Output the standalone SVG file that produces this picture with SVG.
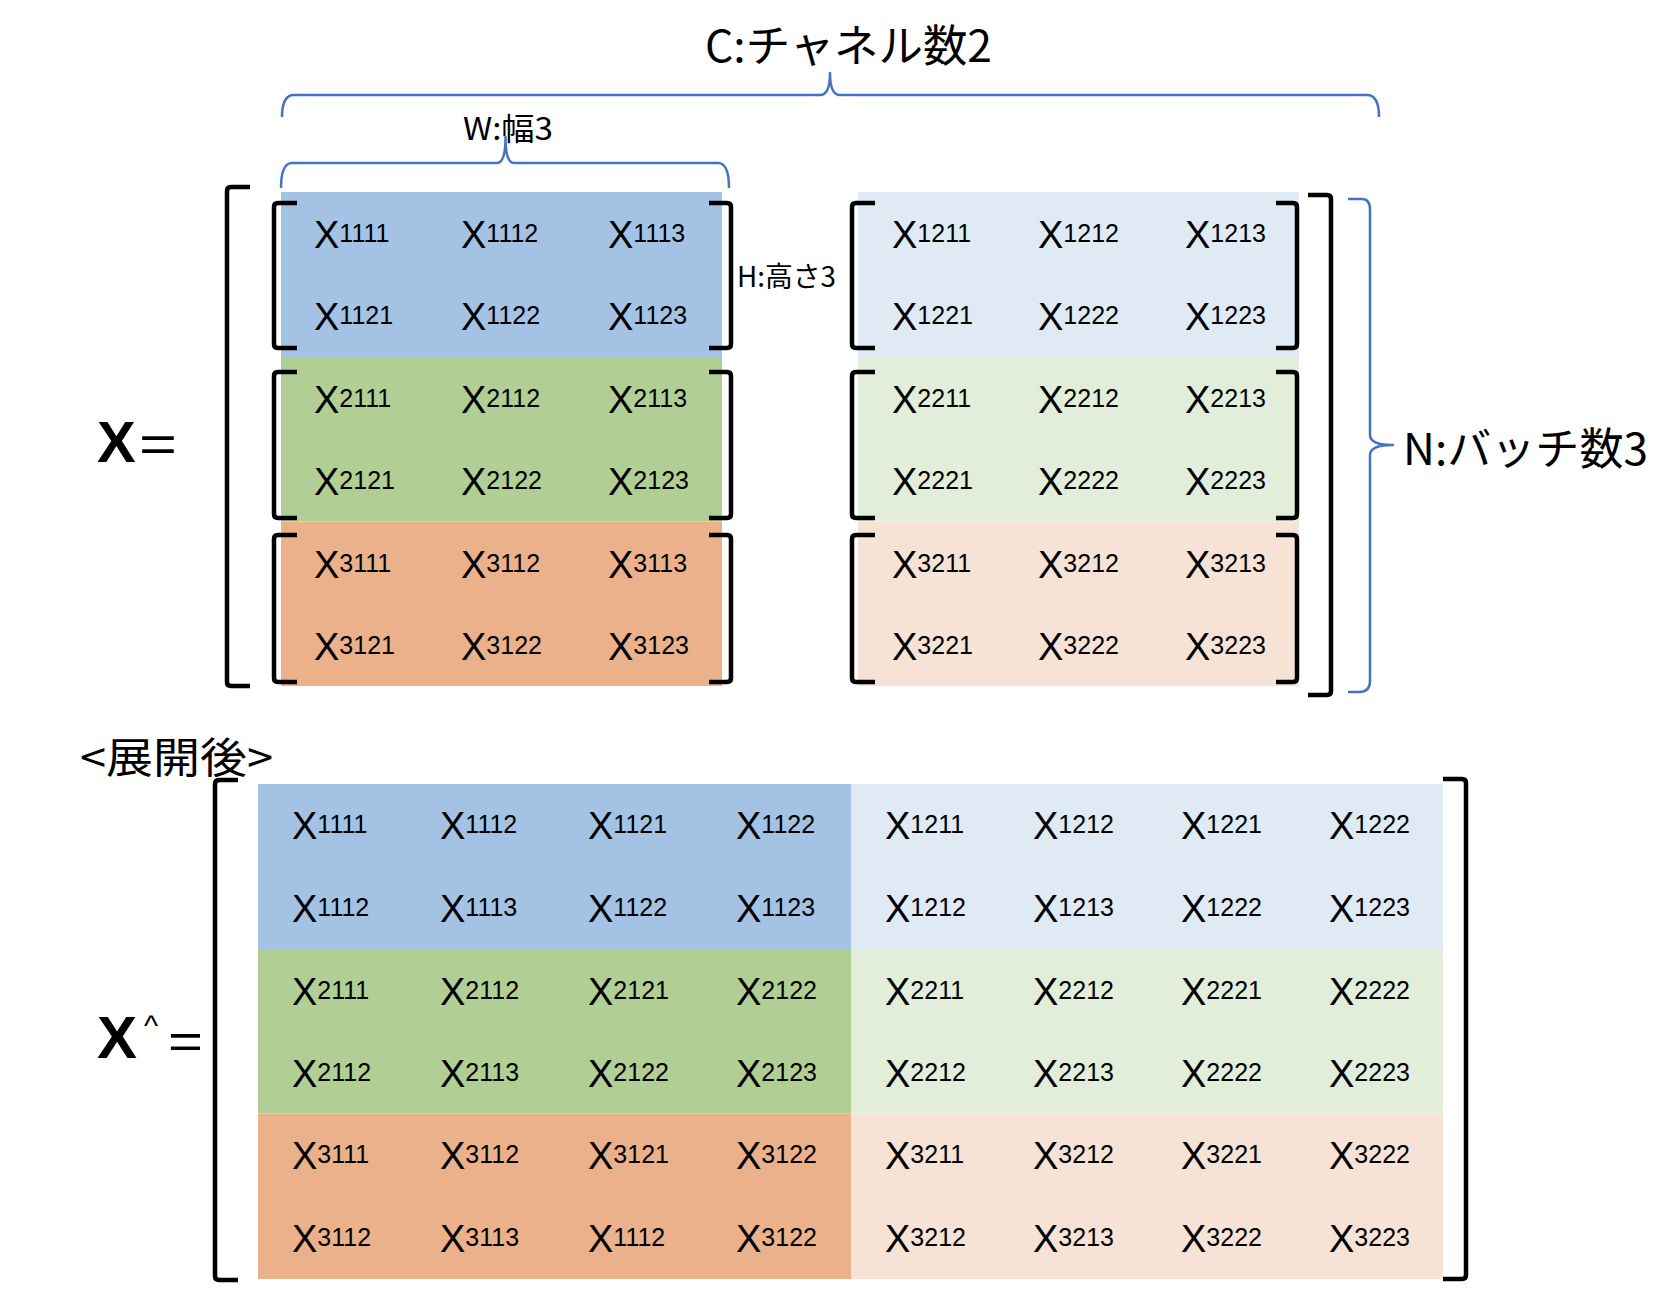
<svg xmlns="http://www.w3.org/2000/svg" width="1664" height="1310" viewBox="0 0 1664 1310">
<style>
.c{font-family:"Liberation Sans",Arial,sans-serif;fill:#000}
.xl{font-size:38px}
.dg{font-size:25px}
.jp{font-family:"Noto Sans CJK JP","Liberation Sans",sans-serif;fill:#000}
.br{fill:none;stroke:#000;stroke-width:4.5;stroke-linejoin:round}
.bc{fill:none;stroke:#4472C4;stroke-width:2.5;stroke-linejoin:round}
</style>
<rect width="1664" height="1310" fill="#fff"/>

<g id="labels">
<text class="jp" x="705" y="62" font-size="44" textLength="287" lengthAdjust="spacingAndGlyphs">C:チャネル数2</text>
<text class="jp" x="463" y="140" font-size="31" textLength="90" lengthAdjust="spacingAndGlyphs">W:幅3</text>
<text class="jp" x="737" y="287" font-size="28" textLength="99" lengthAdjust="spacingAndGlyphs">H:高さ3</text>
<text class="jp" x="1403" y="465" font-size="44" textLength="245" lengthAdjust="spacingAndGlyphs">N:バッチ数3</text>
<text class="jp" x="80" y="773" font-size="42" textLength="193" lengthAdjust="spacingAndGlyphs">&lt;展開後&gt;</text>
<text class="c" x="97" y="462"><tspan font-size="58" font-weight="bold">X</tspan><tspan x="139" font-size="52" textLength="38" lengthAdjust="spacingAndGlyphs">=</tspan></text>
<text class="c" x="97" y="1058"><tspan font-size="60" font-weight="bold">X</tspan><tspan x="144" y="1036" font-size="30">^</tspan><tspan x="168" y="1058" font-size="50" textLength="35" lengthAdjust="spacingAndGlyphs">=</tspan></text>
</g>

<g id="braces">
<path class="bc" d="M282,117 Q282,95 294,95 H820 Q830,95 830,73 Q830,95 840,95 H1367 Q1379,95 1379,117"/>
<path class="bc" d="M281,188 Q281,163 292,163 H497 Q505.5,163 505.5,137 Q505.5,163 514,163 H718 Q729,163 729,188"/>
<path class="bc" d="M1348,199 H1362 Q1370,199 1370,210 V435 Q1370,445 1393,445 Q1370,445 1370,455 V681 Q1370,692 1359,692 H1348"/>
</g>

<g id="matrix-x">
<rect x="281" y="192" width="441" height="165" fill="#A4C2E4"/>
<rect x="281" y="357" width="441" height="164.5" fill="#B1CF95"/>
<rect x="281" y="521.5" width="441" height="164.5" fill="#EBB18A"/>
<rect x="858" y="192" width="441" height="165" fill="#DFEAF5"/>
<rect x="858" y="357" width="441" height="164.5" fill="#E2EEDA"/>
<rect x="858" y="521.5" width="441" height="164.5" fill="#F6E3D6"/>

<path class="br" d="M250,187 H231 Q227,187 227,191 V682 Q227,686 231,686 H250"/>
<path class="br" d="M1308,195 H1327 Q1331,195 1331,199 V691 Q1331,695 1327,695 H1308"/>

<path class="br" d="M297,203 H278 Q274,203 274,207 V344 Q274,348 278,348 H297"/>
<path class="br" d="M297,372 H278 Q274,372 274,376 V514 Q274,518 278,518 H297"/>
<path class="br" d="M297,535 H278 Q274,535 274,539 V678 Q274,682 278,682 H297"/>
<path class="br" d="M709,203 H727 Q731,203 731,207 V344 Q731,348 727,348 H709"/>
<path class="br" d="M709,372 H727 Q731,372 731,376 V514 Q731,518 727,518 H709"/>
<path class="br" d="M709,535 H727 Q731,535 731,539 V678 Q731,682 727,682 H709"/>
<path class="br" d="M875,203 H856 Q852,203 852,207 V344 Q852,348 856,348 H875"/>
<path class="br" d="M875,372 H856 Q852,372 852,376 V514 Q852,518 856,518 H875"/>
<path class="br" d="M875,535 H856 Q852,535 852,539 V678 Q852,682 856,682 H875"/>
<path class="br" d="M1276,203 H1293 Q1297,203 1297,207 V344 Q1297,348 1293,348 H1276"/>
<path class="br" d="M1276,372 H1293 Q1297,372 1297,376 V514 Q1297,518 1293,518 H1276"/>
<path class="br" d="M1276,535 H1293 Q1297,535 1297,539 V678 Q1297,682 1293,682 H1276"/>

<g class="c">
<text x="314" y="248"><tspan class="xl">X</tspan><tspan class="dg" dy="-6">1111</tspan></text>
<text x="461" y="248"><tspan class="xl">X</tspan><tspan class="dg" dy="-6">1112</tspan></text>
<text x="608" y="248"><tspan class="xl">X</tspan><tspan class="dg" dy="-6">1113</tspan></text>
<text x="314" y="330"><tspan class="xl">X</tspan><tspan class="dg" dy="-6">1121</tspan></text>
<text x="461" y="330"><tspan class="xl">X</tspan><tspan class="dg" dy="-6">1122</tspan></text>
<text x="608" y="330"><tspan class="xl">X</tspan><tspan class="dg" dy="-6">1123</tspan></text>
<text x="314" y="413"><tspan class="xl">X</tspan><tspan class="dg" dy="-6">2111</tspan></text>
<text x="461" y="413"><tspan class="xl">X</tspan><tspan class="dg" dy="-6">2112</tspan></text>
<text x="608" y="413"><tspan class="xl">X</tspan><tspan class="dg" dy="-6">2113</tspan></text>
<text x="314" y="495"><tspan class="xl">X</tspan><tspan class="dg" dy="-6">2121</tspan></text>
<text x="461" y="495"><tspan class="xl">X</tspan><tspan class="dg" dy="-6">2122</tspan></text>
<text x="608" y="495"><tspan class="xl">X</tspan><tspan class="dg" dy="-6">2123</tspan></text>
<text x="314" y="578"><tspan class="xl">X</tspan><tspan class="dg" dy="-6">3111</tspan></text>
<text x="461" y="578"><tspan class="xl">X</tspan><tspan class="dg" dy="-6">3112</tspan></text>
<text x="608" y="578"><tspan class="xl">X</tspan><tspan class="dg" dy="-6">3113</tspan></text>
<text x="314" y="660"><tspan class="xl">X</tspan><tspan class="dg" dy="-6">3121</tspan></text>
<text x="461" y="660"><tspan class="xl">X</tspan><tspan class="dg" dy="-6">3122</tspan></text>
<text x="608" y="660"><tspan class="xl">X</tspan><tspan class="dg" dy="-6">3123</tspan></text>

<text x="892" y="248"><tspan class="xl">X</tspan><tspan class="dg" dy="-6">1211</tspan></text>
<text x="1038" y="248"><tspan class="xl">X</tspan><tspan class="dg" dy="-6">1212</tspan></text>
<text x="1185" y="248"><tspan class="xl">X</tspan><tspan class="dg" dy="-6">1213</tspan></text>
<text x="892" y="330"><tspan class="xl">X</tspan><tspan class="dg" dy="-6">1221</tspan></text>
<text x="1038" y="330"><tspan class="xl">X</tspan><tspan class="dg" dy="-6">1222</tspan></text>
<text x="1185" y="330"><tspan class="xl">X</tspan><tspan class="dg" dy="-6">1223</tspan></text>
<text x="892" y="413"><tspan class="xl">X</tspan><tspan class="dg" dy="-6">2211</tspan></text>
<text x="1038" y="413"><tspan class="xl">X</tspan><tspan class="dg" dy="-6">2212</tspan></text>
<text x="1185" y="413"><tspan class="xl">X</tspan><tspan class="dg" dy="-6">2213</tspan></text>
<text x="892" y="495"><tspan class="xl">X</tspan><tspan class="dg" dy="-6">2221</tspan></text>
<text x="1038" y="495"><tspan class="xl">X</tspan><tspan class="dg" dy="-6">2222</tspan></text>
<text x="1185" y="495"><tspan class="xl">X</tspan><tspan class="dg" dy="-6">2223</tspan></text>
<text x="892" y="578"><tspan class="xl">X</tspan><tspan class="dg" dy="-6">3211</tspan></text>
<text x="1038" y="578"><tspan class="xl">X</tspan><tspan class="dg" dy="-6">3212</tspan></text>
<text x="1185" y="578"><tspan class="xl">X</tspan><tspan class="dg" dy="-6">3213</tspan></text>
<text x="892" y="660"><tspan class="xl">X</tspan><tspan class="dg" dy="-6">3221</tspan></text>
<text x="1038" y="660"><tspan class="xl">X</tspan><tspan class="dg" dy="-6">3222</tspan></text>
<text x="1185" y="660"><tspan class="xl">X</tspan><tspan class="dg" dy="-6">3223</tspan></text>
</g>
</g>

<g id="matrix-xhat">
<rect x="258" y="784" width="593" height="165" fill="#A4C2E4"/>
<rect x="258" y="949" width="593" height="164.5" fill="#B1CF95"/>
<rect x="258" y="1113.5" width="593" height="165.5" fill="#EBB18A"/>
<rect x="851" y="784" width="592" height="165" fill="#DFEAF5"/>
<rect x="851" y="949" width="592" height="164.5" fill="#E2EEDA"/>
<rect x="851" y="1113.5" width="592" height="165.5" fill="#F6E3D6"/>

<path class="br" d="M238,780 H219 Q215,780 215,784 V1276 Q215,1280 219,1280 H238"/>
<path class="br" d="M1443,779 H1462 Q1466,779 1466,783 V1275 Q1466,1279 1462,1279 H1443"/>

<g class="c">
<text x="292" y="839"><tspan class="xl">X</tspan><tspan class="dg" dy="-6">1111</tspan></text>
<text x="440" y="839"><tspan class="xl">X</tspan><tspan class="dg" dy="-6">1112</tspan></text>
<text x="588" y="839"><tspan class="xl">X</tspan><tspan class="dg" dy="-6">1121</tspan></text>
<text x="736" y="839"><tspan class="xl">X</tspan><tspan class="dg" dy="-6">1122</tspan></text>
<text x="885" y="839"><tspan class="xl">X</tspan><tspan class="dg" dy="-6">1211</tspan></text>
<text x="1033" y="839"><tspan class="xl">X</tspan><tspan class="dg" dy="-6">1212</tspan></text>
<text x="1181" y="839"><tspan class="xl">X</tspan><tspan class="dg" dy="-6">1221</tspan></text>
<text x="1329" y="839"><tspan class="xl">X</tspan><tspan class="dg" dy="-6">1222</tspan></text>

<text x="292" y="922"><tspan class="xl">X</tspan><tspan class="dg" dy="-6">1112</tspan></text>
<text x="440" y="922"><tspan class="xl">X</tspan><tspan class="dg" dy="-6">1113</tspan></text>
<text x="588" y="922"><tspan class="xl">X</tspan><tspan class="dg" dy="-6">1122</tspan></text>
<text x="736" y="922"><tspan class="xl">X</tspan><tspan class="dg" dy="-6">1123</tspan></text>
<text x="885" y="922"><tspan class="xl">X</tspan><tspan class="dg" dy="-6">1212</tspan></text>
<text x="1033" y="922"><tspan class="xl">X</tspan><tspan class="dg" dy="-6">1213</tspan></text>
<text x="1181" y="922"><tspan class="xl">X</tspan><tspan class="dg" dy="-6">1222</tspan></text>
<text x="1329" y="922"><tspan class="xl">X</tspan><tspan class="dg" dy="-6">1223</tspan></text>

<text x="292" y="1005"><tspan class="xl">X</tspan><tspan class="dg" dy="-6">2111</tspan></text>
<text x="440" y="1005"><tspan class="xl">X</tspan><tspan class="dg" dy="-6">2112</tspan></text>
<text x="588" y="1005"><tspan class="xl">X</tspan><tspan class="dg" dy="-6">2121</tspan></text>
<text x="736" y="1005"><tspan class="xl">X</tspan><tspan class="dg" dy="-6">2122</tspan></text>
<text x="885" y="1005"><tspan class="xl">X</tspan><tspan class="dg" dy="-6">2211</tspan></text>
<text x="1033" y="1005"><tspan class="xl">X</tspan><tspan class="dg" dy="-6">2212</tspan></text>
<text x="1181" y="1005"><tspan class="xl">X</tspan><tspan class="dg" dy="-6">2221</tspan></text>
<text x="1329" y="1005"><tspan class="xl">X</tspan><tspan class="dg" dy="-6">2222</tspan></text>

<text x="292" y="1087"><tspan class="xl">X</tspan><tspan class="dg" dy="-6">2112</tspan></text>
<text x="440" y="1087"><tspan class="xl">X</tspan><tspan class="dg" dy="-6">2113</tspan></text>
<text x="588" y="1087"><tspan class="xl">X</tspan><tspan class="dg" dy="-6">2122</tspan></text>
<text x="736" y="1087"><tspan class="xl">X</tspan><tspan class="dg" dy="-6">2123</tspan></text>
<text x="885" y="1087"><tspan class="xl">X</tspan><tspan class="dg" dy="-6">2212</tspan></text>
<text x="1033" y="1087"><tspan class="xl">X</tspan><tspan class="dg" dy="-6">2213</tspan></text>
<text x="1181" y="1087"><tspan class="xl">X</tspan><tspan class="dg" dy="-6">2222</tspan></text>
<text x="1329" y="1087"><tspan class="xl">X</tspan><tspan class="dg" dy="-6">2223</tspan></text>

<text x="292" y="1169"><tspan class="xl">X</tspan><tspan class="dg" dy="-6">3111</tspan></text>
<text x="440" y="1169"><tspan class="xl">X</tspan><tspan class="dg" dy="-6">3112</tspan></text>
<text x="588" y="1169"><tspan class="xl">X</tspan><tspan class="dg" dy="-6">3121</tspan></text>
<text x="736" y="1169"><tspan class="xl">X</tspan><tspan class="dg" dy="-6">3122</tspan></text>
<text x="885" y="1169"><tspan class="xl">X</tspan><tspan class="dg" dy="-6">3211</tspan></text>
<text x="1033" y="1169"><tspan class="xl">X</tspan><tspan class="dg" dy="-6">3212</tspan></text>
<text x="1181" y="1169"><tspan class="xl">X</tspan><tspan class="dg" dy="-6">3221</tspan></text>
<text x="1329" y="1169"><tspan class="xl">X</tspan><tspan class="dg" dy="-6">3222</tspan></text>

<text x="292" y="1252"><tspan class="xl">X</tspan><tspan class="dg" dy="-6">3112</tspan></text>
<text x="440" y="1252"><tspan class="xl">X</tspan><tspan class="dg" dy="-6">3113</tspan></text>
<text x="588" y="1252"><tspan class="xl">X</tspan><tspan class="dg" dy="-6">1112</tspan></text>
<text x="736" y="1252"><tspan class="xl">X</tspan><tspan class="dg" dy="-6">3122</tspan></text>
<text x="885" y="1252"><tspan class="xl">X</tspan><tspan class="dg" dy="-6">3212</tspan></text>
<text x="1033" y="1252"><tspan class="xl">X</tspan><tspan class="dg" dy="-6">3213</tspan></text>
<text x="1181" y="1252"><tspan class="xl">X</tspan><tspan class="dg" dy="-6">3222</tspan></text>
<text x="1329" y="1252"><tspan class="xl">X</tspan><tspan class="dg" dy="-6">3223</tspan></text>
</g>
</g>
</svg>
